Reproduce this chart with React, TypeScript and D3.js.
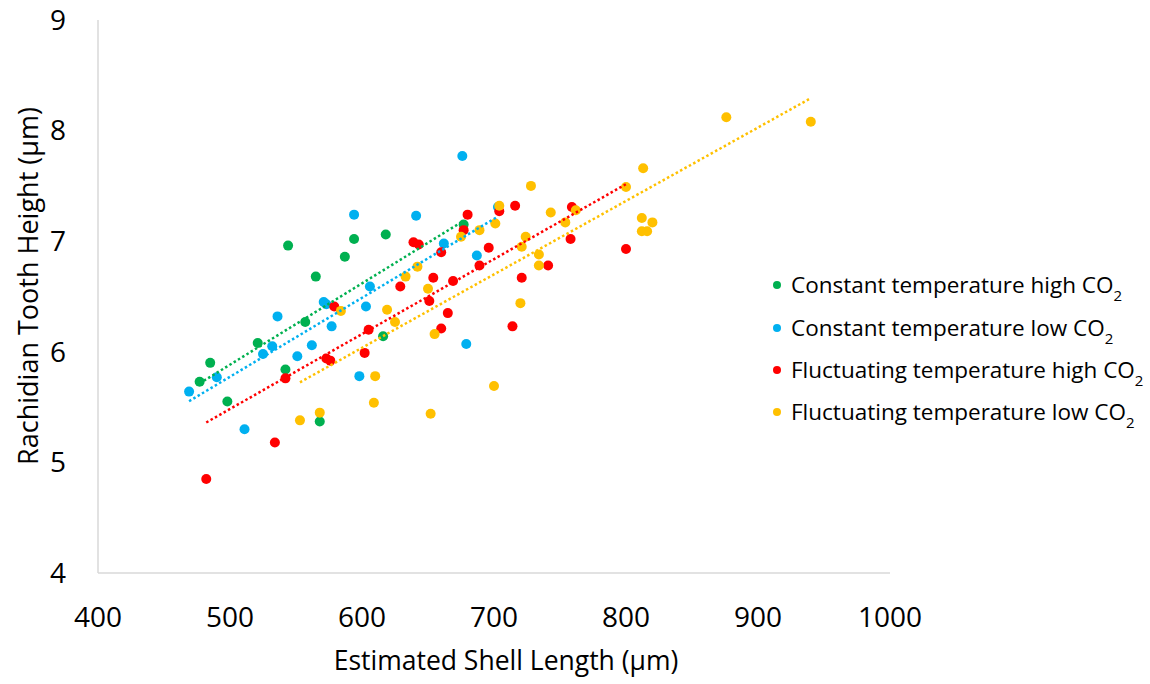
import React from "react";
import * as d3 from "d3";

const width = 1150;
const height = 684;
const margin = { top: 20, right: 260, bottom: 111, left: 98 };
const fontFamily = "'Open Sans', 'Noto Sans', sans-serif";

const seriesNames = [
  "Constant temperature high CO",
  "Constant temperature low CO",
  "Fluctuating temperature high CO",
  "Fluctuating temperature low CO",
];
const seriesColors = ["#00b050", "#00b0f0", "#ff0000", "#ffc000"];

const xTicks = [400, 500, 600, 700, 800, 900, 1000];
const yTicks = [4, 5, 6, 7, 8, 9];

// constant temperature, high CO2
const constHighX = [477, 485, 498, 521, 542, 544, 557, 565, 568, 587, 594, 616, 618, 677];
const constHighY = [5.73, 5.9, 5.55, 6.08, 5.84, 6.96, 6.27, 6.68, 5.37, 6.86, 7.02, 6.14, 7.06, 7.15];

// constant temperature, low CO2
const constLowX = [469, 490, 511, 525, 532, 536, 551, 562, 571, 573, 577, 594, 598, 603, 606, 641, 662, 676, 679, 687, 703];
const constLowY = [5.64, 5.77, 5.3, 5.98, 6.05, 6.32, 5.96, 6.06, 6.45, 6.43, 6.23, 7.24, 5.78, 6.41, 6.59, 7.23, 6.98, 7.77, 6.07, 6.87, 7.31];

// fluctuating temperature, high CO2
const flucHighX = [482, 534, 542, 573, 576, 579, 602, 605, 629, 639, 643, 651, 654, 660, 660, 665, 669, 677, 680, 689, 696, 704, 714, 716, 721, 741, 758, 759, 800];
const flucHighY = [4.85, 5.18, 5.76, 5.94, 5.92, 6.41, 5.99, 6.2, 6.59, 6.99, 6.97, 6.46, 6.67, 6.9, 6.21, 6.35, 6.64, 7.1, 7.24, 6.78, 6.94, 7.27, 6.23, 7.32, 6.67, 6.78, 7.02, 7.31, 6.93];

// fluctuating temperature, low CO2
const flucLowX = [553, 568, 584, 609, 610, 619, 625, 633, 642, 650, 652, 655, 675, 689, 700, 701, 704, 720, 721, 724, 728, 734, 734, 743, 754, 762, 800, 812, 812, 813, 816, 820, 876, 940];
const flucLowY = [5.38, 5.45, 6.37, 5.54, 5.78, 6.38, 6.27, 6.68, 6.77, 6.57, 5.44, 6.16, 7.04, 7.1, 5.69, 7.16, 7.32, 6.44, 6.95, 7.04, 7.5, 6.88, 6.78, 7.26, 7.17, 7.28, 7.49, 7.21, 7.09, 7.66, 7.09, 7.17, 8.12, 8.08];

const seriesX = [constHighX, constLowX, flucHighX, flucLowX];
const seriesY = [constHighY, constLowY, flucHighY, flucLowY];

const xScale = d3.scaleLinear().domain([400, 1000]).range([margin.left, 890]);
const yScale = d3.scaleLinear().domain([4, 9]).range([height - margin.bottom, margin.top]);

// least squares trend line
function trend(xs: number[], ys: number[]) {
  const mx = d3.mean(xs)!;
  const my = d3.mean(ys)!;
  let num = 0;
  let den = 0;
  xs.forEach((x, i) => {
    num += (x - mx) * (ys[i] - my);
    den += (x - mx) * (x - mx);
  });
  const slope = num / den;
  const [x0, x1] = d3.extent(xs) as [number, number];
  return [
    [x0, my + slope * (x0 - mx)],
    [x1, my + slope * (x1 - mx)],
  ];
}

const line = d3
  .line<number[]>()
  .x(d => xScale(d[0]))
  .y(d => yScale(d[1]));

export default function App() {
  const y0 = yScale(4);
  return (
    <svg
      width={width}
      height={height}
      style={{ position: "absolute", left: 0, top: 0, background: "#fff" }}
      fontFamily={fontFamily}
    >
      {/* axes */}
      <line x1={xScale(400)} x2={xScale(400)} y1={yScale(9)} y2={y0} stroke="#d9d9d9" strokeWidth={1.5} />
      <line x1={xScale(400)} x2={xScale(1000)} y1={y0} y2={y0} stroke="#d9d9d9" strokeWidth={1.5} />

      {yTicks.map(t => (
        <text key={t} x={66} y={yScale(t)} dy="0.35em" textAnchor="end" fontSize={28} fill="#000">
          {t}
        </text>
      ))}
      {xTicks.map(t => (
        <text key={t} x={xScale(t)} y={617} dy="0.35em" textAnchor="middle" fontSize={28} fill="#000">
          {t}
        </text>
      ))}

      <text x={506} y={661} dy="0.35em" textAnchor="middle" fontSize={26.5} fill="#000">
        Estimated Shell Length (µm)
      </text>
      <text
        transform={`translate(29, 286) rotate(-90)`}
        dy="0.35em"
        textAnchor="middle"
        fontSize={27}
        fill="#000"
      >
        Rachidian Tooth Height (µm)
      </text>

      {/* points */}
      {seriesX.map((xs, s) => (
        <g key={s} fill={seriesColors[s]}>
          {xs.map((x, i) => (
            <circle key={i} cx={xScale(x)} cy={yScale(seriesY[s][i])} r={5} />
          ))}
        </g>
      ))}

      {/* trend lines */}
      {seriesX.map((xs, s) => (
        <path
          key={s}
          d={line(trend(xs, seriesY[s])) || ""}
          fill="none"
          stroke={seriesColors[s]}
          strokeWidth={2.5}
          strokeDasharray="2.5 2.5"
        />
      ))}

      {/* legend */}
      {seriesNames.map((name, s) => {
        const ly = [285, 328, 370, 412][s];
        return (
          <g key={name}>
            <circle cx={777} cy={ly} r={4} fill={seriesColors[s]} />
            <text x={791} y={ly} dy="0.35em" fontSize={22.5} fill="#000">
              {name}
              <tspan fontSize={15} dy="0.55em">2</tspan>
            </text>
          </g>
        );
      })}
    </svg>
  );
}
